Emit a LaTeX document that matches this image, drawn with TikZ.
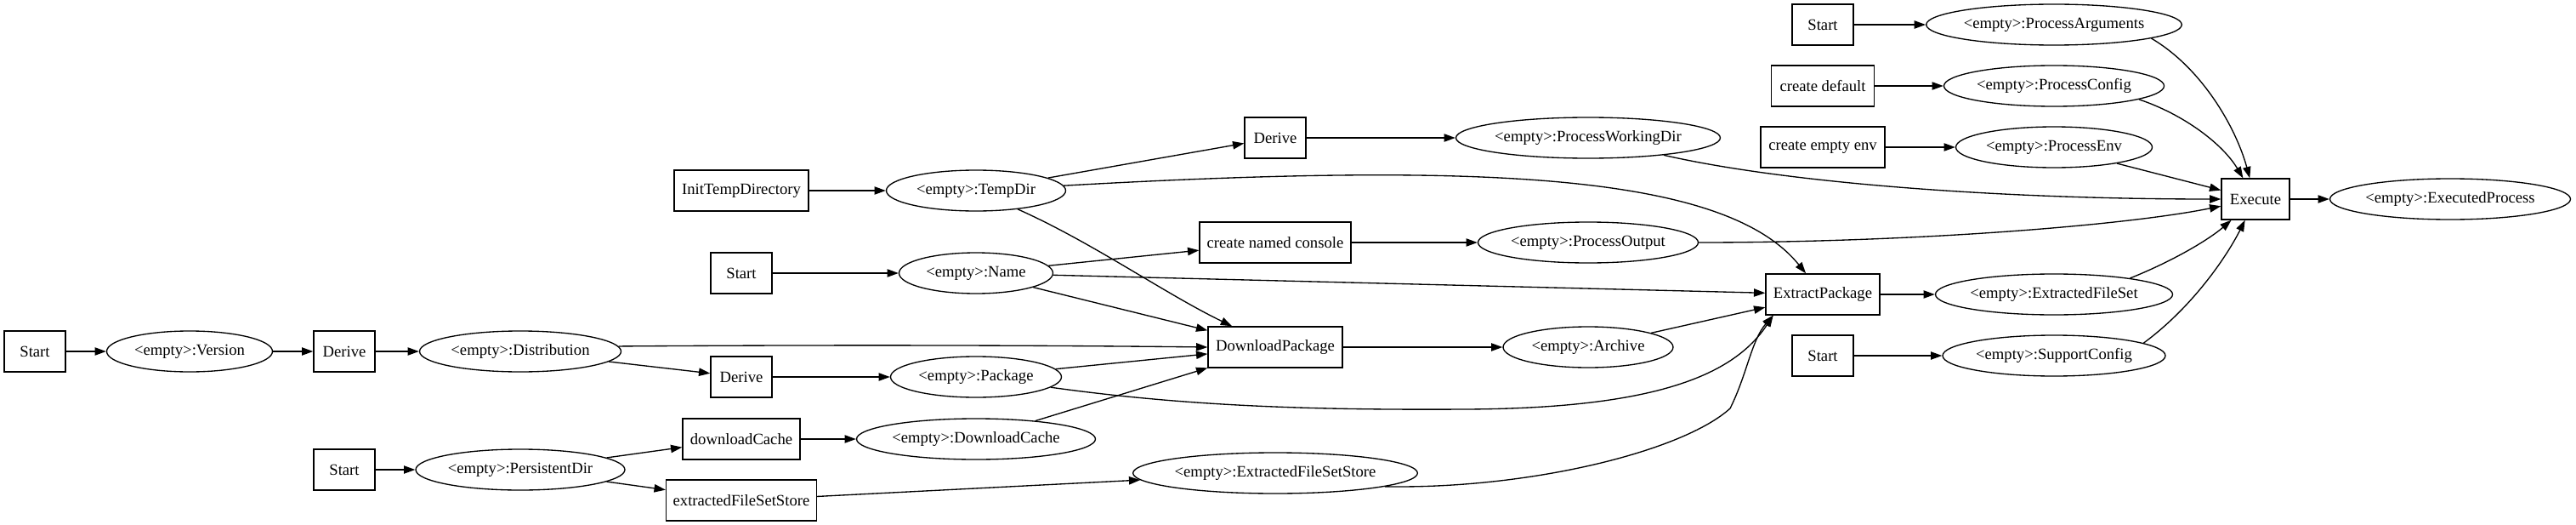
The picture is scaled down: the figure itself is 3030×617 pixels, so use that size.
\documentclass[tikz,border=0pt]{standalone}
\usepackage{fontspec}
\setmainfont{Liberation Serif}
\usetikzlibrary{shapes.geometric,arrows.meta}
\begin{document}
\begin{tikzpicture}[x=0.75pt,y=-0.75pt,
  gbox/.style={draw,rectangle,line width=1pt,minimum width=#1*0.75pt,minimum height=36pt,inner sep=0pt,font=\fontsize{14pt}{16pt}\selectfont},
  gell/.style={draw,ellipse,line width=1pt,minimum width=#1*0.75pt,minimum height=36pt,inner sep=0pt,font=\fontsize{14pt}{16pt}\selectfont},
  conn/.style={line width=1pt,-{Triangle[length=10pt,width=7pt]}}]
\useasboundingbox (0,0) rectangle (3030,617);
% nodes
\node[gbox=72] (s1) at (41,413) {Start};
\node[gell=195] (ver) at (223,413) {<empty>:Version};
\node[gbox=72] (der1) at (405,413) {Derive};
\node[gell=237] (dist) at (612,413) {<empty>:Distribution};
\node[gbox=72] (s2) at (405,552) {Start};
\node[gell=246] (pd) at (612,552) {<empty>:PersistentDir};
\node[gbox=158] (itd) at (872,224) {InitTempDirectory};
\node[gbox=72] (s3) at (872,321) {Start};
\node[gbox=72] (der3) at (872,443) {Derive};
\node[gbox=138] (dlc) at (872,516) {downloadCache};
\node[gbox=177] (efss) at (872,588) {extractedFileSetStore};
\node[gell=211] (td) at (1148,224) {<empty>:TempDir};
\node[gell=181] (nm) at (1148,321) {<empty>:Name};
\node[gell=201] (pkg) at (1148,443) {<empty>:Package};
\node[gell=281] (dc) at (1148,516) {<empty>:DownloadCache};
\node[gbox=72] (der2) at (1500,162) {Derive};
\node[gbox=178] (cnc) at (1500,285) {create named console};
\node[gbox=158] (dp) at (1500,408) {DownloadPackage};
\node[gell=328] (efs2) at (1500,556) {<empty>:ExtractedFileSetStore};
\node[gell=311] (pwd) at (1868,162) {<empty>:ProcessWorkingDir};
\node[gell=259] (po) at (1868,285) {<empty>:ProcessOutput};
\node[gell=200] (ar) at (1868,408) {<empty>:Archive};
\node[gbox=72] (s5) at (2144,29) {Start};
\node[gbox=121] (cd) at (2144,101) {create default};
\node[gbox=146] (cee) at (2144,173) {create empty env};
\node[gbox=134] (ep) at (2144,346) {ExtractPackage};
\node[gbox=72] (s4) at (2144,418) {Start};
\node[gell=300] (pa) at (2416,29) {<empty>:ProcessArguments};
\node[gell=259] (pc) at (2416,101) {<empty>:ProcessConfig};
\node[gell=231] (pe) at (2416,173) {<empty>:ProcessEnv};
\node[gell=279] (efs) at (2416,346) {<empty>:ExtractedFileSet};
\node[gell=262] (sc) at (2416,418) {<empty>:SupportConfig};
\node[gbox=80] (ex) at (2653,234) {Execute};
\node[gell=283] (exp) at (2882,234) {<empty>:ExecutedProcess};
% edges
\draw[conn] (s1) -- (ver);
\draw[conn] (ver) -- (der1);
\draw[conn] (der1) -- (dist);
\draw[conn] (dist.3) .. controls (1000,405) and (1250,406) .. (dp.west);
\draw[conn] (dist) -- (der3);
\draw[conn] (der3) -- (pkg);
\draw[conn] (pkg) -- (dp);
\draw[conn] (dc) -- (dp);
\draw[conn] (nm) -- (dp);
\draw[conn] (td) .. controls (1285,285) and (1370,345) .. (dp);
\draw[conn] (td) -- (der2);
\draw[conn] (der2) -- (pwd);
\draw[conn] (td) .. controls (1750,190) and (2030,205) .. (ep);
\draw[conn] (nm) -- (cnc);
\draw[conn] (cnc) -- (po);
\draw[conn] (itd) -- (td);
\draw[conn] (s3) -- (nm);
\draw[conn] (nm) -- (ep);
\draw[conn] (dp) -- (ar);
\draw[conn] (ar) -- (ep);
\draw[conn] (pkg) .. controls (1400,478) and (1550,482) .. (1723,481)
  .. controls (1950,480) and (2040,440) .. ([xshift=7pt]ep.south west);
\draw[conn] (efs2.-7) .. controls (1800,575) and (1980,530) .. (2035,480)
  .. controls (2055,440) and (2060,400) .. ([xshift=7pt]ep.south west);
\draw[conn] (ep) -- (efs);
\draw[conn] (s4) -- (sc);
\draw[conn] (po) .. controls (2250,285) and (2500,265) .. (ex);
\draw[conn] (pwd) .. controls (2100,215) and (2350,234) .. (ex.west);
\draw[conn] (pe) -- (ex);
\draw[conn] (pa.-8) .. controls (2590,80) and (2630,150) .. (ex);
\draw[conn] (pc.-9) .. controls (2570,135) and (2615,170) .. (ex);
\draw[conn] (efs.12) .. controls (2560,305) and (2600,280) .. (ex);
\draw[conn] (sc.8) .. controls (2580,360) and (2620,300) .. (ex);
\draw[conn] (ex) -- (exp);
\draw[conn] (s5) -- (pa);
\draw[conn] (cd) -- (pc);
\draw[conn] (cee) -- (pe);
\draw[conn] (s2) -- (pd);
\draw[conn] (pd) -- (dlc);
\draw[conn] (pd) -- (efss);
\draw[conn] (dlc) -- (dc);
\draw[conn] (efss) -- (efs2);
\end{tikzpicture}
\end{document}
